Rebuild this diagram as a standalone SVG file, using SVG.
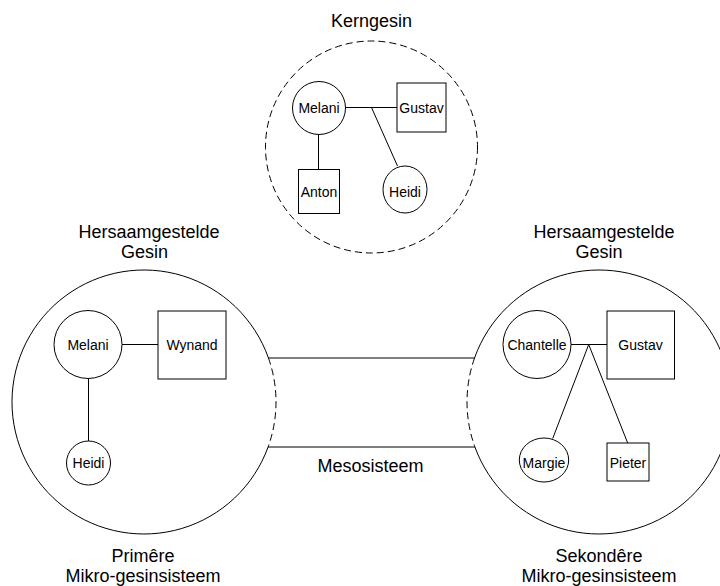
<svg xmlns="http://www.w3.org/2000/svg" width="720" height="586" viewBox="0 0 720 586">
<style>
.s{fill:none;stroke:#000;stroke-width:1}
.n{fill:#fff;stroke:#000;stroke-width:1}
.d{fill:none;stroke:#000;stroke-width:1;stroke-dasharray:7,4}
.t{font-family:"Liberation Sans",Arial,sans-serif;font-size:14px;fill:#000;text-anchor:middle}
.h{font-family:"Liberation Sans",Arial,sans-serif;font-size:18px;fill:#000;text-anchor:middle}
</style>
<rect width="720" height="586" fill="#fff"/>
<g id="systems">
<g id="kerngesin">
<circle class="d" cx="371.5" cy="147" r="106"/>
<text class="h" x="371.5" y="27">Kerngesin</text>
</g>
<g id="primere">
<path class="s" d="M268.45 358 A132 132 0 1 0 268.09 447"/>
<path class="d" d="M268.45 358 A132 132 0 0 1 268.09 447"/>
<text class="h" x="149" y="237.5">Hersaamgestelde</text>
<text class="h" x="144.5" y="257.5">Gesin</text>
<text class="h" x="143" y="561.5">Primêre</text>
<text class="h" x="143" y="581.5">Mikro-gesinsisteem</text>
</g>
<g id="sekondere">
<path class="s" d="M474.55 358 A132 132 0 1 1 474.91 447"/>
<path class="d" d="M474.55 358 A132 132 0 0 0 474.91 447"/>
<text class="h" x="604" y="237.5">Hersaamgestelde</text>
<text class="h" x="599" y="257.5">Gesin</text>
<text class="h" x="599" y="561.5">Sekondêre</text>
<text class="h" x="599" y="581.5">Mikro-gesinsisteem</text>
</g>
<g id="mesosisteem">
<text class="h" x="370.5" y="471.5">Mesosisteem</text>
</g>
</g>
<g id="connectors">
<line class="s" x1="268.45" y1="358" x2="474.55" y2="358"/>
<line class="s" x1="268.09" y1="447" x2="474.91" y2="447"/>
<line class="s" x1="345.5" y1="107.5" x2="397" y2="107.5"/>
<line class="s" x1="371.5" y1="107.5" x2="397.5" y2="166"/>
<line class="s" x1="318.5" y1="134.5" x2="318.5" y2="169.5"/>
<line class="s" x1="122" y1="344.5" x2="158" y2="344.5"/>
<line class="s" x1="88.5" y1="378.5" x2="88.5" y2="441"/>
<line class="s" x1="571" y1="344.5" x2="607" y2="344.5"/>
<line class="s" x1="588.7" y1="344.5" x2="552.7" y2="438.5"/>
<line class="s" x1="588.7" y1="344.5" x2="627.7" y2="443"/>
</g>
<g id="k-melani"><circle class="n" cx="319" cy="108" r="26.5"/><text class="t" x="319" y="113">Melani</text></g>
<g id="k-gustav"><rect class="n" x="397" y="83" width="49" height="49"/><text class="t" x="421.5" y="113">Gustav</text></g>
<g id="k-anton"><rect class="n" x="298.5" y="169.5" width="41" height="44"/><text class="t" x="319" y="196.5">Anton</text></g>
<g id="k-heidi"><ellipse class="n" cx="405" cy="189.5" rx="22" ry="23.5"/><text class="t" x="405" y="196.5">Heidi</text></g>
<g id="p-melani"><circle class="n" cx="88" cy="344.5" r="34"/><text class="t" x="88" y="349.5">Melani</text></g>
<g id="p-wynand"><rect class="n" x="158" y="311" width="68" height="68"/><text class="t" x="192" y="349.5">Wynand</text></g>
<g id="p-heidi"><circle class="n" cx="88.5" cy="463" r="22"/><text class="t" x="88.5" y="468">Heidi</text></g>
<g id="s-chantelle"><circle class="n" cx="537" cy="344.5" r="34"/><text class="t" x="537" y="349.5">Chantelle</text></g>
<g id="s-gustav"><rect class="n" x="607" y="311" width="67.5" height="68"/><text class="t" x="640.5" y="349.5">Gustav</text></g>
<g id="s-margie"><ellipse class="n" cx="544" cy="460" rx="24.7" ry="22"/><text class="t" x="544" y="468">Margie</text></g>
<g id="s-pieter"><rect class="n" x="607" y="443" width="42" height="38"/><text class="t" x="628" y="468">Pieter</text></g>
</svg>
